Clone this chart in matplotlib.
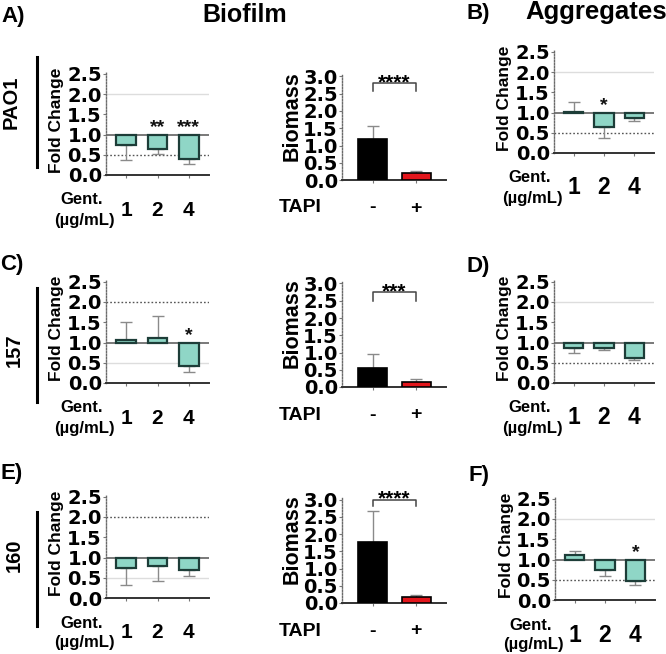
import numpy as np
import matplotlib
matplotlib.use("Agg")
import matplotlib.pyplot as plt
from matplotlib.lines import Line2D
from matplotlib.font_manager import FontProperties
from matplotlib.transforms import blended_transform_factory, offset_copy

# ---------------- data ----------------
gent_labels = ['1', '2', '4']
tapi_labels = ['-', '+']

fc_A = [0.74, 0.63, 0.40]; err_A = [0.37, 0.10, 0.12]; sig_A = ['', '**', '***']
fc_B = [1.02, 0.63, 0.86]; err_B = [0.24, 0.26, 0.08]; sig_B = ['', '*', '']
fc_C = [1.05, 1.12, 0.43]; err_C = [0.45, 0.53, 0.17]; sig_C = ['', '', '*']
fc_D = [0.87, 0.86, 0.62]; err_D = [0.12, 0.05, 0.04]; sig_D = ['', '', '']
fc_E = [0.73, 0.80, 0.68]; err_E = [0.40, 0.38, 0.13]; sig_E = ['', '', '']
fc_F = [1.10, 0.75, 0.47]; err_F = [0.10, 0.15, 0.09]; sig_F = ['', '', '*']

bio_A = [1.19, 0.20]; bio_err_A = [0.38, 0.06]; bio_sig_A = '****'
bio_C = [0.56, 0.15]; bio_err_C = [0.39, 0.07]; bio_sig_C = '***'
bio_E = [1.76, 0.18]; bio_err_E = [0.92, 0.04]; bio_sig_E = '****'

fc_ticks = [0.0, 0.5, 1.0, 1.5, 2.0, 2.5]
bio_ticks = [0.0, 0.5, 1.0, 1.5, 2.0, 2.5, 3.0]

# ---------------- figure ----------------
W, H = 666, 654
fig = plt.figure(figsize=(W / 100, H / 100), dpi=100)
fig.patch.set_facecolor('white')

SANS = 'Liberation Sans'
TICK_FP = FontProperties(family='DejaVu Sans', weight='bold', size=14)
TEAL = '#8fd6c6'
TEAL_EDGE = '#1d3d38'
RED = '#e3161c'


def px_axes(l, t, r, b):
    return fig.add_axes([l / W, 1 - b / H, (r - l) / W, (b - t) / H])


def ftext(x, y, s, **kw):
    fig.text(x / W, 1 - y / H, s, **kw)


def style_axes(ax, ticks):
    for s in ['top', 'right']:
        ax.spines[s].set_visible(False)
    ax.spines['left'].set_linestyle((0, (1, 1.2)))
    ax.spines['left'].set_color('#6a6a6a')
    ax.spines['left'].set_linewidth(1.0)
    ax.spines['bottom'].set_color('#333333')
    ax.spines['bottom'].set_linewidth(1.4)
    ax.tick_params(axis='y', length=2, width=0.8, color='#777777', pad=1.0)
    ax.tick_params(axis='x', length=2, width=0.8, color='#777777')
    ax.set_yticks(ticks)
    ax.set_yticklabels(['%.1f' % t for t in ticks])
    for lab in ax.get_yticklabels():
        lab.set_fontproperties(TICK_FP)
        lab.set_color('black')
    ax.set_facecolor('none')


def below_text(ax, x, dy, s, **kw):
    tr = offset_copy(blended_transform_factory(ax.transData, ax.transAxes),
                     fig=fig, x=0, y=-dy, units='dots')
    ax.text(x, 0, s, transform=tr, ha='center', va='center', clip_on=False, **kw)


def fold_panel(l, r, b, vals, errs, sigs, dark_y, faint_y, ticksize):
    ppu = 40.5
    top = b - 2.55 * ppu
    ax = px_axes(l, top, r, b)
    x = np.arange(len(vals))
    ax.set_xlim(-0.65, 2.65)
    ax.set_ylim(0, 2.55)
    ax.axhline(faint_y, color='#dddddd', lw=1.0, zorder=1)
    ax.axhline(dark_y, color='#555555', lw=1.0, ls=(0, (1.2, 1.5)), zorder=1)
    ax.axhline(1.0, color='#555555', lw=1.1, zorder=1)
    v = np.array(vals)
    e = np.array(errs)
    lower = np.where(v < 1, e, 0)
    upper = np.where(v >= 1, e, 0)
    ax.errorbar(x, v, yerr=[lower, upper], fmt='none', ecolor='#8a8a8a',
                elinewidth=1.0, capsize=4, capthick=1.0, zorder=2)
    ax.bar(x, v - 1, bottom=1, width=0.63, color=TEAL, edgecolor=TEAL_EDGE,
           linewidth=1.6, zorder=3)
    tr = offset_copy(ax.transData, fig=fig, x=0, y=2, units='dots')
    for xi, s in zip(x, sigs):
        if s:
            ax.text(xi, 1.0, s, transform=tr, ha='center', va='baseline',
                    fontfamily=SANS, fontweight='bold', fontsize=14,
                    color='#111111', zorder=4)
    style_axes(ax, fc_ticks)
    ax.set_xticks(x)
    ax.set_xticklabels([])
    for xi, s in zip(x, gent_labels):
        below_text(ax, xi, 35, s, fontfamily=SANS, fontweight='bold',
                   fontsize=ticksize, color='black')
    # axis texts
    ftext(l - 49, (top + b) / 2 - 3, 'Fold Change', rotation=90, ha='center',
          va='center', fontfamily=SANS, fontweight='bold', fontsize=12.5)
    ftext(l - 24, b + 25, 'Gent.', ha='center', va='center', fontfamily=SANS,
          fontweight='bold', fontsize=12)
    ftext(l - 22, b + 45, '(\u00b5g/mL)', ha='center', va='center',
          fontfamily=SANS, fontweight='bold', fontsize=12)
    return ax


def bio_panel(l, r, b, vals, errs, sig, bracket_y, tick_y):
    ppu = 34.5
    top = b - 3.05 * ppu
    ax = px_axes(l, top, r, b)
    x = np.arange(len(vals))
    ax.set_xlim(-0.7, 1.68)
    ax.set_ylim(0, 3.05)
    ax.errorbar(x, vals, yerr=[[0, 0], errs], fmt='none', ecolor='#8a8a8a',
                elinewidth=1.0, capsize=4, capthick=1.0, zorder=2)
    ax.bar(x, vals, width=0.66, color=['black', RED], edgecolor='black',
           linewidth=1.2, zorder=3)
    ax.plot([0, 0, 1, 1], [tick_y, bracket_y, bracket_y, tick_y],
            color='#444444', lw=1.1, clip_on=False, zorder=4)
    tr = offset_copy(ax.transData, fig=fig, x=0, y=-5, units='dots')
    ax.text(0.5, bracket_y, sig, transform=tr, ha='center', va='baseline',
            fontfamily=SANS, fontweight='bold', fontsize=15, clip_on=False)
    style_axes(ax, bio_ticks)
    ax.set_xticks(x)
    ax.set_xticklabels([])
    for xi, s in zip(x, tapi_labels):
        below_text(ax, xi, 28, s, fontfamily=SANS, fontweight='bold',
                   fontsize=14, color='black')
    ftext(l - 50, (top + b) / 2 - 11, 'Biomass', rotation=90, ha='center',
          va='center', fontfamily=SANS, fontweight='bold', fontsize=15.5)
    ftext(l - 20, b + 28, 'TAPI', ha='right', va='center', fontfamily=SANS,
          fontweight='bold', fontsize=14)
    return ax


fold_panel(106, 209, 175, fc_A, err_A, sig_A, 0.5, 2.0, 15)
fold_panel(554, 654, 153, fc_B, err_B, sig_B, 0.5, 2.0, 16.5)
fold_panel(106, 209, 383, fc_C, err_C, sig_C, 2.0, 0.5, 15)
fold_panel(554, 654, 383, fc_D, err_D, sig_D, 0.5, 2.0, 16.5)
fold_panel(106, 209, 598, fc_E, err_E, sig_E, 2.0, 0.5, 15)
fold_panel(555, 655, 600, fc_F, err_F, sig_F, 0.5, 2.0, 16.5)

bio_panel(342, 446, 180, bio_A, bio_err_A, bio_sig_A, 2.8, 2.57)
bio_panel(342, 446, 387, bio_C, bio_err_C, bio_sig_C, 2.74, 2.5)
bio_panel(342, 446, 603, bio_E, bio_err_E, bio_sig_E, 3.0, 2.8)

# titles and panel letters
tk = dict(fontfamily=SANS, fontweight='bold', va='baseline')
ftext(1, 22, 'A)', ha='left', fontsize=16, **tk)
ftext(245, 22, 'Biofilm', ha='center', fontsize=18, **tk)
ftext(467, 19, 'B)', ha='left', fontsize=16, **tk)
ftext(596, 19, 'Aggregates', ha='center', fontsize=18.5, **tk)
ftext(0, 270, 'C)', ha='left', fontsize=16, **tk)
ftext(467, 272, 'D)', ha='left', fontsize=16, **tk)
ftext(0, 479, 'E)', ha='left', fontsize=16, **tk)
ftext(469, 481, 'F)', ha='left', fontsize=16, **tk)

# row labels with bars
rk = dict(fontfamily=SANS, fontweight='bold', rotation=90, ha='center',
          va='center', fontsize=14.5)
ftext(11, 102, 'PAO1', **rk)
ftext(14, 350, '157', **rk)
ftext(14, 555, '160', **rk)
for (y0, y1) in [(57, 167), (288, 402), (512, 626)]:
    fig.add_artist(Line2D([37 / W, 37 / W], [1 - y0 / H, 1 - y1 / H],
                          transform=fig.transFigure, color='black', lw=2.2))

fig.savefig('out.png', dpi=100, facecolor='white')
